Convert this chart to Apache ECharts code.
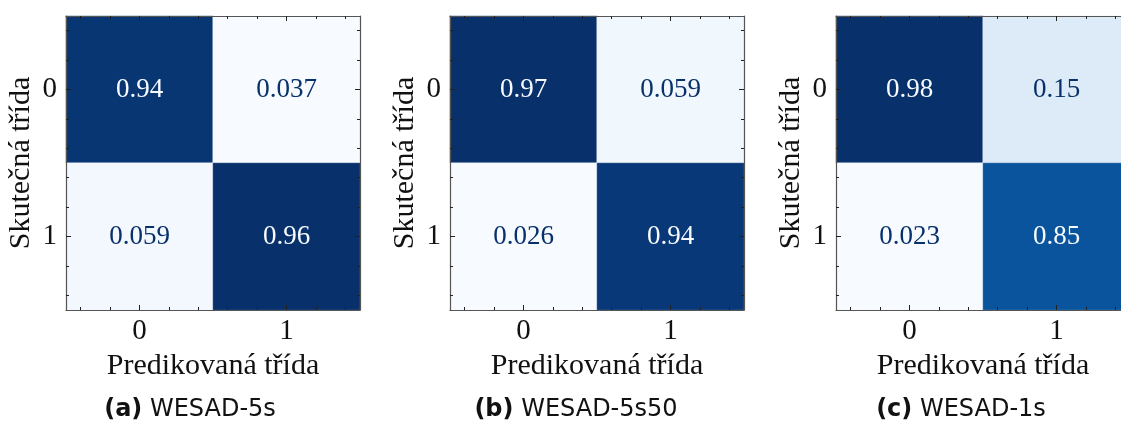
<!DOCTYPE html>
<html>
<head>
<meta charset="utf-8">
<script src="https://cdn.jsdelivr.net/npm/echarts@6/dist/echarts.min.js"></script>
<style>
html,body{margin:0;padding:0;background:#fff;}
#c{width:1121px;height:426px;}
</style>
</head>
<body>
<div id="c"></div>
<script>
// ---- data ----
const classLabels = ['0', '1'];
const matrixA = [[0.94, 0.037], [0.059, 0.96]];   // rows: true class, cols: predicted
const matrixB = [[0.97, 0.059], [0.026, 0.94]];
const matrixC = [[0.98, 0.15], [0.023, 0.85]];
const captionTags = ['(a)', '(b)', '(c)'];
const captionNames = ['WESAD-5s', 'WESAD-5s50', 'WESAD-1s'];
const xAxisTitle = 'Predikovaná třída';
const yAxisTitle = 'Skutečná třída';
const minorTickValues = [-0.4, -0.2, 0.2, 0.4, 0.6, 0.8, 1.2, 1.4];

const matrices = [matrixA, matrixB, matrixC];
const blues = ['#f7fbff', '#deebf7', '#c6dbef', '#9ecae1', '#6baed6', '#4292c6', '#2171b5', '#08519c', '#08306b'];

const gridLefts = [66, 450, 836];
const gridTop = 16, gridSize = 294;
const captionCenters = [185, 571, 956];

const serif = '"Liberation Serif", "DejaVu Serif", serif';
const sans = '"DejaVu Sans", sans-serif';

const grids = [], xAxes = [], yAxes = [], series = [], visualMaps = [], titles = [];

matrices.forEach((m, i) => {
  grids.push({
    left: gridLefts[i], top: gridTop, width: gridSize, height: gridSize,
    containLabel: false, outerBoundsMode: 'none'
  });
  const flat = m.flat();
  const vmin = Math.min(...flat), vmax = Math.max(...flat);
  const thresh = (vmin + vmax) / 2;
  const base = xAxes.length;
  const lineStyle = { color: '#555', width: 1.2 };
  const tickStyle = { color: '#222', width: 1 };
  const AZ = 10;
  const line = { show: true, onZero: false, lineStyle };
  const noLine = { show: false, onZero: false };
  // x axes
  xAxes.push({
    type: 'category', data: classLabels, gridIndex: i, position: 'bottom', z: AZ,
    axisLine: line,
    axisTick: { show: true, inside: true, alignWithLabel: true, length: 5, lineStyle: tickStyle },
    axisLabel: { fontFamily: serif, fontSize: 29, color: '#111', margin: 7 },
    splitLine: { show: false },
    name: xAxisTitle, nameLocation: 'middle', nameGap: 35,
    nameTextStyle: { fontFamily: serif, fontSize: 30, color: '#111' }
  });
  xAxes.push({
    type: 'value', min: -0.5, max: 1.5, gridIndex: i, position: 'bottom', z: AZ,
    axisLine: noLine, axisLabel: { show: false }, splitLine: { show: false },
    axisTick: { show: true, inside: true, length: 3, lineStyle: tickStyle, customValues: minorTickValues }
  });
  xAxes.push({
    type: 'category', data: classLabels, gridIndex: i, position: 'top', z: AZ,
    axisLine: line,
    axisTick: { show: true, inside: true, alignWithLabel: true, length: 5, lineStyle: tickStyle },
    axisLabel: { show: false }, splitLine: { show: false }
  });
  xAxes.push({
    type: 'value', min: -0.5, max: 1.5, gridIndex: i, position: 'top', z: AZ,
    axisLine: noLine, axisLabel: { show: false }, splitLine: { show: false },
    axisTick: { show: true, inside: true, length: 3, lineStyle: tickStyle, customValues: minorTickValues }
  });
  // y axes
  yAxes.push({
    type: 'category', data: classLabels, inverse: true, gridIndex: i, position: 'left', z: AZ,
    axisLine: line,
    axisTick: { show: true, inside: true, alignWithLabel: true, length: 5, lineStyle: tickStyle },
    axisLabel: { fontFamily: serif, fontSize: 29, color: '#111', margin: 9 },
    splitLine: { show: false },
    name: yAxisTitle, nameLocation: 'middle', nameGap: 30, nameRotate: 90,
    nameTextStyle: { fontFamily: serif, fontSize: 30, color: '#111' }
  });
  yAxes.push({
    type: 'value', min: -0.5, max: 1.5, inverse: true, gridIndex: i, position: 'left', z: AZ,
    axisLine: noLine, axisLabel: { show: false }, splitLine: { show: false },
    axisTick: { show: true, inside: true, length: 3, lineStyle: tickStyle, customValues: minorTickValues }
  });
  yAxes.push({
    type: 'category', data: classLabels, inverse: true, gridIndex: i, position: 'right', z: AZ,
    axisLine: line,
    axisTick: { show: true, inside: true, alignWithLabel: true, length: 5, lineStyle: tickStyle },
    axisLabel: { show: false }, splitLine: { show: false }
  });
  yAxes.push({
    type: 'value', min: -0.5, max: 1.5, inverse: true, gridIndex: i, position: 'right', z: AZ,
    axisLine: noLine, axisLabel: { show: false }, splitLine: { show: false },
    axisTick: { show: true, inside: true, length: 3, lineStyle: tickStyle, customValues: minorTickValues }
  });

  const data = [];
  m.forEach((row, r) => row.forEach((v, c) => {
    data.push({ value: [c, r, v], label: { color: v > thresh ? '#f7fbff' : '#08306b' } });
  }));
  series.push({
    type: 'heatmap', xAxisIndex: base, yAxisIndex: base, data,
    itemStyle: { borderColor: 'rgba(255,255,255,0.35)', borderWidth: 0.8 },
    label: { show: true, fontFamily: serif, fontSize: 27, formatter: p => String(p.value[2]) },
    emphasis: { disabled: true }, z: 1
  });
  visualMaps.push({
    type: 'continuous', show: false, seriesIndex: i, dimension: 2,
    min: vmin, max: vmax, inRange: { color: blues }
  });
  titles.push({
    text: '{b|' + captionTags[i] + '} ' + captionNames[i],
    left: captionCenters[i], top: 393, textAlign: 'center',
    textStyle: {
      fontFamily: sans, fontSize: 24, fontWeight: 'normal', color: '#111',
      rich: { b: { fontFamily: sans, fontSize: 24, fontWeight: 'bold', color: '#111' } }
    }
  });
});

const chart = echarts.init(document.getElementById('c'), null, { renderer: 'canvas' });
chart.setOption({
  animation: false,
  backgroundColor: '#fff',
  title: titles,
  grid: grids,
  xAxis: xAxes,
  yAxis: yAxes,
  visualMap: visualMaps,
  series
});
</script>
</body>
</html>
